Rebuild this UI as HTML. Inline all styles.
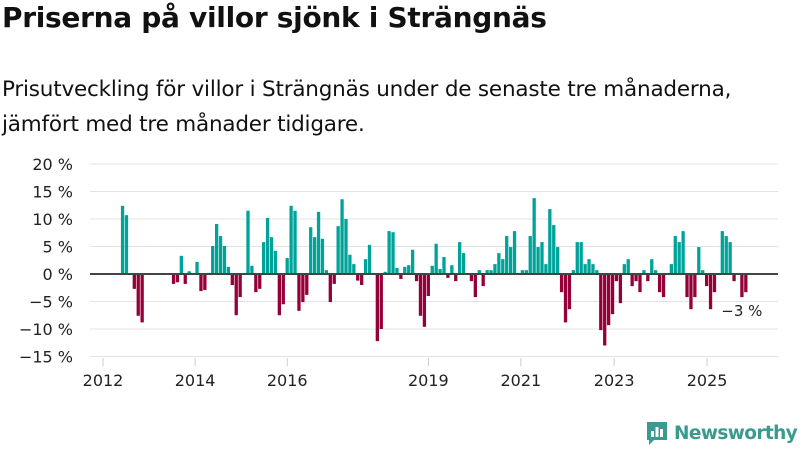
<!DOCTYPE html>
<html><head><meta charset="utf-8"><style>
body{margin:0;width:800px;height:450px;background:#fff;overflow:hidden;font-family:"Liberation Sans","DejaVu Sans",sans-serif;color:#111}
h1{position:absolute;left:2px;top:1px;margin:0;font-size:28px;font-weight:bold;font-family:"DejaVu Sans",sans-serif;letter-spacing:-0.3px;white-space:nowrap}
.sub{position:absolute;left:2px;top:72px;margin:0;font-size:21.5px;line-height:35px;font-family:"DejaVu Sans",sans-serif;font-weight:normal;color:#111;white-space:nowrap;letter-spacing:-0.2px}
svg{position:absolute;left:0;top:0}
</style></head><body>
<h1>Priserna på villor sjönk i Strängnäs</h1>
<p class="sub">Prisutveckling för villor i Strängnäs under de senaste tre månaderna,<br>jämfört med tre månader tidigare.</p>
<svg id="chart" width="800" height="450"></svg>
<script>
const yTicks=[20,15,10,5,0,-5,-10,-15];
const xTickLabels=["2012","2014","2016","2019","2021","2023","2025"];
const xTickIdx=[0,23.5,47,83,106.6,130.4,154.1];
const monthIdx=[5,6,8,9,10,18,19,20,21,22,24,25,26,27,28,29,30,31,32,33,34,35,37,38,39,40,41,42,43,44,45,46,47,48,49,50,51,52,53,54,55,56,57,58,59,60,61,62,63,64,65,66,67,68,70,71,72,73,74,75,76,77,78,79,80,81,82,83,84,85,86,87,88,89,90,91,92,94,95,96,97,98,99,100,101,102,103,104,105,107,108,109,110,111,112,113,114,115,116,117,118,119,120,121,122,123,124,125,126,127,128,129,130,131,132,133,134,135,136,137,138,139,140,141,142,143,145,146,147,148,149,150,151,152,153,154,155,156,158,159,160,161,163,164];
const values=[12.4,10.7,-2.7,-7.6,-8.8,-1.8,-1.5,3.3,-1.8,0.5,2.2,-3.1,-2.9,0.2,5.1,9.1,6.9,5.1,1.3,-2,-7.5,-4.2,11.5,1.5,-3.3,-2.7,5.8,10.2,6.7,4.2,-7.5,-5.5,2.9,12.4,11.5,-6.7,-5.1,-3.8,8.5,6.7,11.3,6.4,0.7,-5.1,-1.8,8.7,13.6,10.0,3.5,1.8,-1.2,-2.0,2.7,5.3,-12.2,-10,0.4,7.8,7.6,1.1,-0.9,1.3,1.6,4.4,-1.3,-7.6,-9.6,-4.0,1.5,5.5,0.9,3.1,-0.7,1.6,-1.3,5.8,3.8,-1.3,-4.2,0.7,-2.2,0.7,0.7,1.8,3.8,2.7,6.9,4.9,7.8,0.7,0.7,6.9,13.8,4.9,5.8,1.8,11.8,8.9,4.9,-3.3,-8.8,-6.4,0.7,5.8,5.8,1.8,2.7,1.8,0.7,-10.2,-13,-9.3,-7.3,-1.3,-5.3,1.8,2.7,-2.2,-1.3,-3.3,0.7,-1.3,2.7,0.7,-3.3,-4.2,1.8,6.9,5.8,7.8,-4.2,-6.4,-4.2,4.9,0.7,-2.2,-6.4,-3.3,7.8,6.9,5.8,-1.3,-4.2,-3.3];
const NS="http://www.w3.org/2000/svg";
const svg=document.getElementById('chart');
const X0=90,X1=778;
function xScale(i){return 103+i*3.92;}
function yScale(v){return 274-v*5.5;}
function mk(tag,attrs,parent){const e=document.createElementNS(NS,tag);for(const k in attrs)e.setAttribute(k,attrs[k]);(parent||svg).appendChild(e);return e;}
yTicks.forEach(t=>{
  if(t!==0){const g=mk('line',{x1:X0,x2:X1,y1:yScale(t),y2:yScale(t),stroke:'#e3e3e3','stroke-width':1});
  
  }
  const tx=mk('text',{x:73,y:yScale(t)+6,'text-anchor':'end','font-size':16,fill:'#222','font-family':'"DejaVu Sans",sans-serif'});
  tx.textContent=(t<0?'−'+(-t):t)+' %';
  
  
});
values.forEach((v,k)=>{
  const x=xScale(monthIdx[k])-1.7;
  const r=mk('rect',{x:x,width:3.3,y:Math.min(yScale(v),yScale(0)),height:Math.abs(yScale(v)-yScale(0)),fill:v>=0?'#00a39a':'#960039'});
  
  
});
const zl=mk('line',{x1:X0,x2:X1,y1:yScale(0),y2:yScale(0),stroke:'#444','stroke-width':2});


xTickLabels.forEach((l,k)=>{
  const x=xScale(xTickIdx[k]);
  const tk=mk('line',{x1:x,x2:x,y1:358,y2:366,stroke:'#ccc','stroke-width':1});
  
  
  const tx=mk('text',{x:x,y:386,'text-anchor':'middle','font-size':16,fill:'#222','font-family':'"DejaVu Sans",sans-serif'});
  tx.textContent=l;
  
  
});
const lastIdx=monthIdx[monthIdx.length-1];
const lab=mk('text',{x:xScale(lastIdx)-4,y:316,'text-anchor':'middle','font-size':15,fill:'#222','font-family':'"DejaVu Sans",sans-serif'});
lab.textContent='−'+Math.round(-values[values.length-1])+' %';


</script>
<div style="position:absolute;left:645px;top:420px;height:26px;display:flex;align-items:center;white-space:nowrap">
<svg width="24" height="26" style="position:static"><path d="M2 2h20v18H9l-5 5v-5H2z" fill="#3a9a8f"/><rect x="6" y="11" width="3" height="6" fill="#fff"/><rect x="10.5" y="7" width="3" height="10" fill="#fff"/><rect x="15" y="9" width="3" height="8" fill="#fff"/></svg>
<span style="margin-left:5px;font-size:18.5px;font-weight:bold;color:#3a9a8f;font-family:'DejaVu Sans',sans-serif;letter-spacing:-0.6px">Newsworthy</span>
</div>
</body></html>
